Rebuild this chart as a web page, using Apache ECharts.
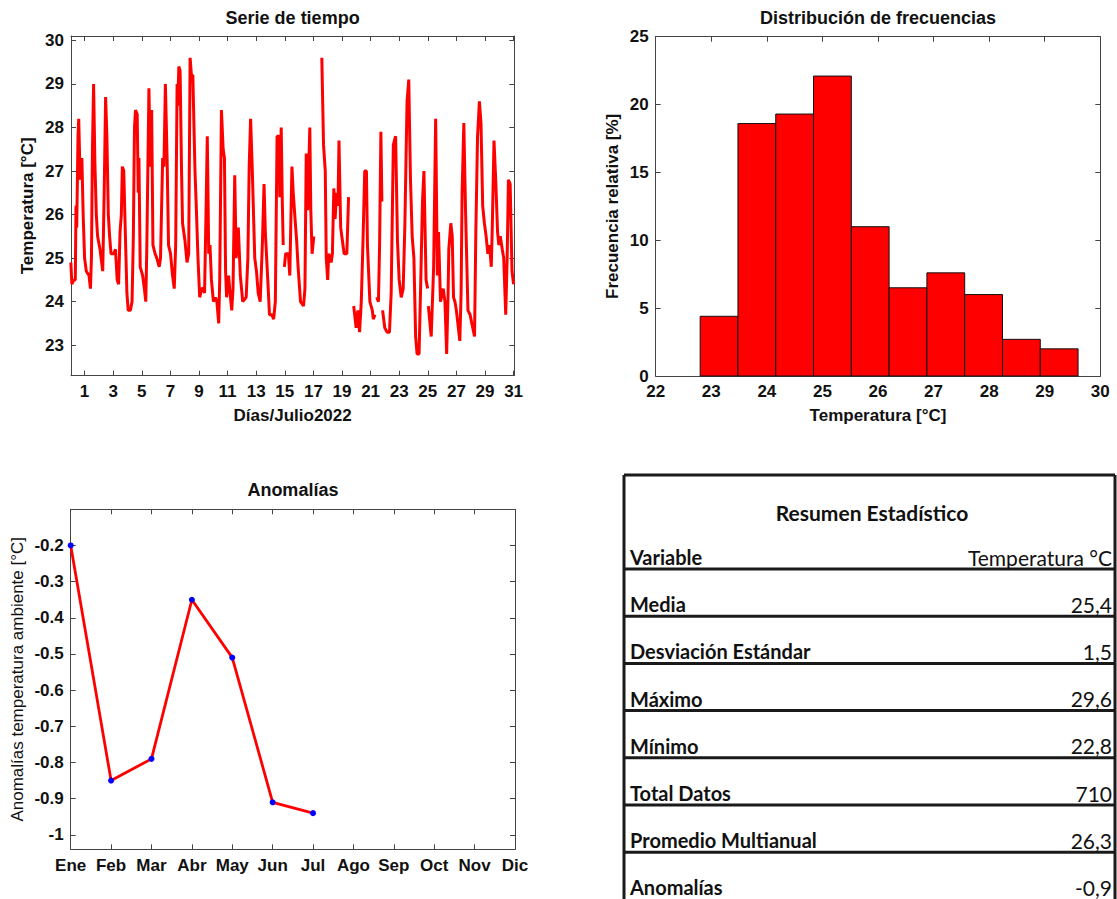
<!DOCTYPE html>
<html>
<head>
<meta charset="utf-8">
<title>Temperatura Julio 2022</title>
<script src="https://cdn.jsdelivr.net/npm/echarts@6.0.0/dist/echarts.min.js"></script>
<style>
  html, body { margin: 0; padding: 0; background: #fff; }
  #chart { width: 1117px; height: 899px; }
</style>
</head>
<body>
<div id="chart"></div>
<script>
// Serie de tiempo: dia del mes y temperatura (null = hueco sin datos)
const tsDay = [
  0.04, 0.11, 0.25, 0.35, 0.40, 0.45, 0.54, 0.59, 0.69, 0.81, 0.90, 1.00, 1.12, 1.31, 1.41, 1.48,
  1.55, 1.63, 1.72, 1.82, 1.91, 2.08, 2.27, 2.37, 2.47, 2.56, 2.66, 2.75, 2.85, 3.04, 3.16, 3.28,
  3.38, 3.48, 3.57, 3.64, 3.74, 3.84, 3.96, 4.05, 4.20, 4.32, 4.41, 4.49, 4.56, 4.68, 4.75, 4.80,
  4.89, 5.06, 5.18, 5.28, 5.35, 5.50, 5.59, 5.69, 5.78, 5.93, 6.05, 6.22, 6.31, 6.46, 6.55, 6.65,
  6.77, 6.87, 7.01, 7.15, 7.27, 7.37, 7.47, 7.51, 7.59, 7.68, 7.78, 7.85, 8.02, 8.16, 8.28, 8.38,
  8.47, 8.57, 8.72, 8.81, 8.93, 9.05, 9.19, 9.29, 9.39, 9.49, 9.58, 9.63, 9.68, 9.77, 9.87, 10.01,
  10.16, 10.25, 10.38, 10.45, 10.57, 10.69, 10.78, 10.86, 10.93, 11.07, 11.17, 11.29, 11.38, 11.50, 11.60, 11.75,
  11.89, 12.06, 12.30, 12.42, 12.51, 12.61, 12.73, 12.90, 13.02, 13.14, 13.28, 13.43, 13.55, 13.64, 13.81, 13.93,
  14.10, 14.22, 14.34, 14.46, 14.59, 14.65, 14.75, 14.82, 14.89, 14.93, 14.97, 15.06, 15.25, 15.35, 15.50, 15.59,
  15.74, 15.83, 15.93, 16.10, 16.31, 16.41, 16.50, 16.60, 16.75, 16.82, 16.91, 17.03, 17.30, 17.59, 17.71, 17.83,
  17.90, 18.00, 18.07, 18.24, 18.33, 18.43, 18.52, 18.62, 18.72, 18.79, 18.91, 19.03, 19.15, 19.34, 19.46, 19.65,
  19.82, 19.99, 20.11, 20.23, 20.35, 20.47, 20.59, 20.71, 20.78, 20.95, 21.12, 21.19, 21.31, 21.37, 21.43, 21.55,
  21.63, 21.72, 21.79, 21.82, 21.84, 21.99, 22.15, 22.32, 22.44, 22.59, 22.75, 22.88, 23.00, 23.14, 23.28, 23.40,
  23.55, 23.67, 23.79, 23.91, 24.03, 24.15, 24.25, 24.39, 24.49, 24.63, 24.73, 24.88, 24.99, 25.02, 25.04, 25.24,
  25.41, 25.55, 25.67, 25.75, 25.89, 26.08, 26.20, 26.32, 26.42, 26.47, 26.61, 26.71, 26.80, 26.90, 27.00, 27.24,
  27.33, 27.40, 27.52, 27.64, 27.81, 27.96, 28.08, 28.27, 28.36, 28.48, 28.61, 28.72, 28.84, 28.96, 29.08, 29.20,
  29.32, 29.44, 29.51, 29.63, 29.75, 29.88, 29.97, 30.07, 30.21, 30.31, 30.45, 30.55, 30.64, 30.76, 30.89, 31.00
];
const tsTemp = [
  24.9, 24.4, 24.5, 24.5, 26.2, 25.7, 27.8, 28.2, 26.8, 27.3, 26.0, 25.0, 24.7, 24.6, 24.3, 25.0,
  27.5, 29.0, 27.2, 26.0, 25.5, 25.2, 24.7, 26.5, 28.7, 27.8, 26.0, 25.5, 25.1, 25.1, 25.2, 24.5,
  24.4, 25.6, 26.0, 27.1, 27.0, 25.7, 24.2, 23.8, 23.8, 24.0, 25.5, 28.0, 28.4, 28.3, 26.5, 27.3,
  24.8, 24.6, 24.3, 24.0, 25.2, 28.9, 27.1, 28.4, 25.3, 25.1, 25.0, 24.8, 25.0, 27.3, 27.1, 29.0,
  27.3, 25.3, 25.1, 24.6, 24.3, 25.3, 29.0, 28.5, 29.4, 29.3, 27.0, 25.8, 25.4, 24.9, 25.1, 29.6,
  29.2, 29.2, 27.0, 26.2, 25.0, 24.1, 24.3, 24.3, 24.2, 26.0, 27.8, 26.5, 25.1, 25.3, 24.5, 24.0,
  24.1, 24.0, 23.5, 24.5, 28.4, 27.5, 27.3, 24.7, 24.1, 24.6, 24.2, 23.8, 24.3, 26.9, 25.0, 25.7,
  24.6, 24.0, 24.1, 25.0, 27.1, 28.2, 27.0, 25.0, 24.7, 24.2, 24.0, 25.3, 26.7, 25.6, 24.5, 23.7,
  23.7, 23.6, 24.0, 27.8, 27.8, 26.4, 28.0, 26.4, 25.3, null, 24.8, 25.1, 25.1, 24.6, 27.1, 26.5,
  25.8, 25.4, 24.8, 24.0, 23.9, 24.3, 27.4, 26.1, 28.0, 26.1, 25.1, 25.5, null, 29.6, 27.6, 27.0,
  25.0, 24.5, 25.1, 24.9, 25.1, 26.6, 25.9, 26.5, 26.2, 27.7, 25.7, 25.4, 25.1, 25.1, 26.4, null,
  23.9, 23.4, 23.8, 23.3, 24.0, 25.4, 27.0, 27.0, 25.3, 24.0, 23.8, 23.6, 23.7, null, 24.1, 24.0,
  25.3, 27.9, 26.3, null, 23.8, 23.4, 23.3, 23.3, 24.2, 27.6, 27.8, 25.4, 24.5, 24.1, 24.3, 25.8,
  28.6, 29.1, 26.8, 25.5, 25.0, 23.2, 22.8, 22.8, 24.2, 26.3, 27.0, 24.5, 24.3, null, 23.9, 23.2,
  24.8, 28.2, 24.6, 25.6, 24.0, 24.3, 24.0, 22.8, 24.2, 25.2, 25.8, 25.5, 24.1, 24.0, 23.8, 23.1,
  24.2, 26.5, 28.1, 26.1, 23.8, 23.7, 23.5, 23.2, 25.6, 27.8, 28.6, 28.1, 26.2, 25.8, 25.5, 25.1,
  25.3, 24.8, 25.7, 27.7, 26.8, 25.6, 25.3, 25.5, 25.2, 25.0, 23.7, 25.0, 26.8, 26.7, 24.7, 24.4
];
const dayTicks = [1, 3, 5, 7, 9, 11, 13, 15, 17, 19, 21, 23, 25, 27, 29, 31];
const tempTicks = [23, 24, 25, 26, 27, 28, 29, 30];

// Distribucion de frecuencias
const histEdges = [22.80, 23.48, 24.16, 24.84, 25.52, 26.20, 26.88, 27.56, 28.24, 28.92, 29.60];
const histFreq = [4.4, 18.6, 19.3, 22.1, 11.0, 6.5, 7.6, 6.0, 2.7, 2.0];

// Anomalias mensuales
const months = ['Ene', 'Feb', 'Mar', 'Abr', 'May', 'Jun', 'Jul', 'Ago', 'Sep', 'Oct', 'Nov', 'Dic'];
const anomalies = [-0.2, -0.85, -0.79, -0.35, -0.51, -0.91, -0.94];
const anomTicks = [-1, -0.9, -0.8, -0.7, -0.6, -0.5, -0.4, -0.3, -0.2];

// Resumen estadistico
const tableLabels = ['Media', 'Desviación Estándar', 'Máximo', 'Mínimo', 'Total Datos', 'Promedio Multianual', 'Anomalías'];
const tableValues = ['25,4', '1,5', '29,6', '22,8', '710', '26,3', '-0,9'];

const FONT = 'Liberation Sans, Arial, sans-serif';
const TABLE_FONT = 'Lato, Carlito, Calibri, sans-serif';
const AXIS_COLOR = '#444';

function axisBase(extra) {
    return Object.assign({
        axisLine: {show: true, onZero: false, lineStyle: {color: AXIS_COLOR, width: 1}},
        axisTick: {show: true, inside: true, length: 5, lineStyle: {color: AXIS_COLOR}},
        axisLabel: {color: '#111', fontFamily: FONT, fontWeight: 'bold', fontSize: 17, margin: 7},
        splitLine: {show: false},
        nameTextStyle: {color: '#111', fontFamily: FONT, fontWeight: 'bold', fontSize: 17}
    }, extra);
}

// ejes espejo (arriba / derecha) solo con marcas, como el recuadro de MATLAB
function mirror(axis, position) {
    const m = Object.assign({}, axis, {position: position, name: ''});
    m.axisLabel = Object.assign({}, axis.axisLabel, {show: false});
    return m;
}

const tsData = tsDay.map((d, i) => [d, tsTemp[i] === null ? '-' : tsTemp[i]]);
const histData = histFreq.map((f, i) => [histEdges[i], histEdges[i + 1], f]);

const xTs = axisBase({
    gridIndex: 0, type: 'value', min: 0.05, max: 31.05,
    name: 'Días/Julio2022', nameLocation: 'middle', nameGap: 31
});
xTs.axisTick = Object.assign({}, xTs.axisTick, {customValues: dayTicks});
xTs.axisLabel = Object.assign({}, xTs.axisLabel, {customValues: dayTicks});

const yTs = axisBase({
    gridIndex: 0, type: 'value', min: 22.3, max: 30.1,
    name: 'Temperatura [°C]', nameLocation: 'middle', nameGap: 35
});
yTs.axisTick = Object.assign({}, yTs.axisTick, {customValues: tempTicks});
yTs.axisLabel = Object.assign({}, yTs.axisLabel, {customValues: tempTicks});

const xHist = axisBase({
    gridIndex: 1, type: 'value', min: 22, max: 30, interval: 1,
    name: 'Temperatura [°C]', nameLocation: 'middle', nameGap: 31
});
const yHist = axisBase({
    gridIndex: 1, type: 'value', min: 0, max: 25, interval: 5,
    name: 'Frecuencia relativa [%]', nameLocation: 'middle', nameGap: 35
});

const xAnom = axisBase({
    gridIndex: 2, type: 'category', data: months, boundaryGap: false
});
xAnom.axisLabel = Object.assign({}, xAnom.axisLabel, {interval: 0, margin: 8});
xAnom.axisTick = Object.assign({}, xAnom.axisTick, {interval: 0});

const yAnom = axisBase({
    gridIndex: 2, type: 'value', min: -1.04, max: -0.1,
    name: 'Anomalías temperatura ambiente [°C]', nameLocation: 'middle', nameGap: 45
});
yAnom.axisTick = Object.assign({}, yAnom.axisTick, {customValues: anomTicks});
yAnom.axisLabel = Object.assign({}, yAnom.axisLabel, {
    customValues: anomTicks,
    formatter: v => String(Math.round(v * 10) / 10)
});
yAnom.nameTextStyle = Object.assign({}, yAnom.nameTextStyle, {fontWeight: 'normal', fontSize: 17});

// tabla de resumen hecha con elementos graficos
const tblLeft = 624, tblRight = 1115, tblTop = 475, firstSep = 569, rowH = 47.2;
const tableGraphic = [];
const lineStyle = {stroke: '#1a1a1a', lineWidth: 3};
tableGraphic.push({type: 'line', shape: {x1: tblLeft, y1: tblTop, x2: tblRight, y2: tblTop}, style: lineStyle});
tableGraphic.push({type: 'line', shape: {x1: tblLeft, y1: tblTop, x2: tblLeft, y2: 899}, style: lineStyle});
tableGraphic.push({type: 'line', shape: {x1: tblRight, y1: tblTop, x2: tblRight, y2: 899}, style: lineStyle});
for (let i = 0; i < tableLabels.length; i++) {
    const sep = firstSep + i * rowH;
    tableGraphic.push({type: 'line', shape: {x1: tblLeft, y1: sep, x2: tblRight, y2: sep}, style: lineStyle});
}
tableGraphic.push({
    type: 'text', x: 872, y: 512,
    style: {text: 'Resumen Estadístico', fill: '#111', font: 'bold 21px ' + TABLE_FONT, align: 'center', verticalAlign: 'middle'}
});
tableGraphic.push({
    type: 'text', x: 630, y: 557,
    style: {text: 'Variable', fill: '#111', font: 'bold 20px ' + TABLE_FONT, align: 'left', verticalAlign: 'middle'}
});
tableGraphic.push({
    type: 'text', x: 1112, y: 557,
    style: {text: 'Temperatura °C', fill: '#111', font: '21px ' + TABLE_FONT, align: 'right', verticalAlign: 'middle'}
});
tableLabels.forEach((lab, i) => {
    const yMid = firstSep + (i + 1) * rowH - 12;
    tableGraphic.push({
        type: 'text', x: 630, y: yMid,
        style: {text: lab, fill: '#111', font: 'bold 20px ' + TABLE_FONT, align: 'left', verticalAlign: 'middle'}
    });
    tableGraphic.push({
        type: 'text', x: 1112, y: yMid,
        style: {text: tableValues[i], fill: '#111', font: '21px ' + TABLE_FONT, align: 'right', verticalAlign: 'middle'}
    });
});

const titleStyle = {fill: '#111', font: 'bold 18px ' + FONT, align: 'center', verticalAlign: 'middle'};
const titles = [
    {type: 'text', x: 292.6, y: 18, style: Object.assign({text: 'Serie de tiempo'}, titleStyle)},
    {type: 'text', x: 878, y: 18, style: Object.assign({text: 'Distribución de frecuencias'}, titleStyle)},
    {type: 'text', x: 292.9, y: 490, style: Object.assign({text: 'Anomalías'}, titleStyle)}
];

const option = {
    backgroundColor: '#fff',
    animation: false,
    grid: [
        {left: 71, top: 36, width: 443.3, height: 339.7},
        {left: 655.7, top: 36.7, width: 444.6, height: 339.3},
        {left: 70.7, top: 509.3, width: 444.3, height: 340}
    ],
    xAxis: [xTs, mirror(xTs, 'top'), xHist, mirror(xHist, 'top'), xAnom, mirror(xAnom, 'top')],
    yAxis: [yTs, mirror(yTs, 'right'), yHist, mirror(yHist, 'right'), yAnom, mirror(yAnom, 'right')],
    series: [
        {
            type: 'line', xAxisIndex: 0, yAxisIndex: 0, data: tsData,
            showSymbol: false, connectNulls: false,
            lineStyle: {color: '#ff0000', width: 3}
        },
        {
            type: 'custom', xAxisIndex: 2, yAxisIndex: 2, data: histData,
            encode: {x: [0, 1], y: 2},
            renderItem: function (params, api) {
                const p0 = api.coord([api.value(0), api.value(2)]);
                const p1 = api.coord([api.value(1), 0]);
                return {
                    type: 'rect',
                    shape: {x: p0[0], y: p0[1], width: p1[0] - p0[0], height: p1[1] - p0[1]},
                    style: {fill: '#ff0000', stroke: '#111', lineWidth: 1}
                };
            }
        },
        {
            type: 'line', xAxisIndex: 4, yAxisIndex: 4, data: anomalies,
            symbol: 'circle', symbolSize: 6,
            itemStyle: {color: '#0000ff'},
            lineStyle: {color: '#ff0000', width: 2.8}
        }
    ],
    graphic: titles.concat(tableGraphic)
};

const myChart = echarts.init(document.getElementById('chart'), null, {renderer: 'svg'});
myChart.setOption(option);
</script>
</body>
</html>
